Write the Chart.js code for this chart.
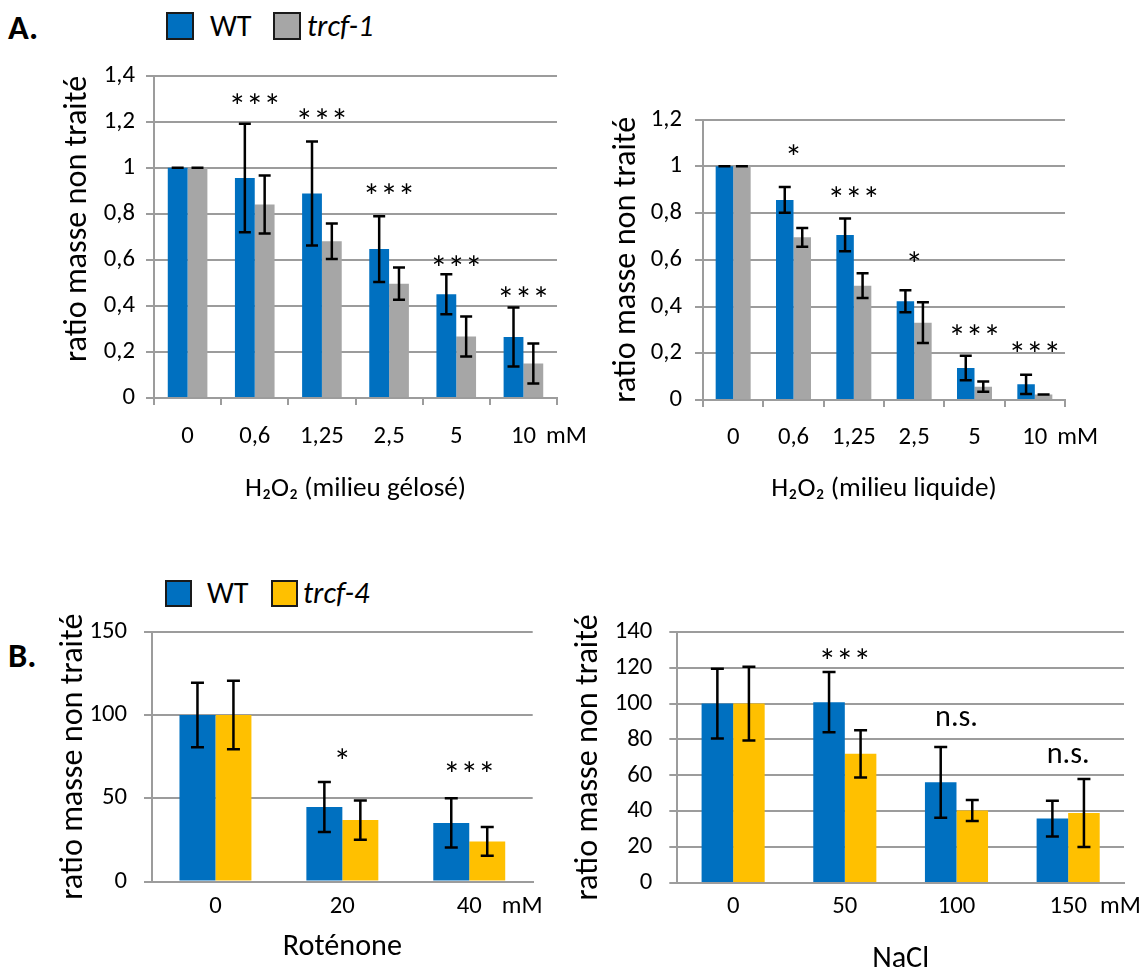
<!DOCTYPE html>
<html><head><meta charset="utf-8">
<script src="https://cdn.jsdelivr.net/npm/chart.js@4.4.1/dist/chart.umd.min.js"></script>
<style>
html,body{margin:0;padding:0;background:#fff;}
body{width:1148px;height:968px;position:relative;overflow:hidden;color:#000}
canvas{position:absolute}
.t{position:absolute;white-space:nowrap;height:40px;line-height:40px}
.box{position:absolute;box-sizing:border-box;border:2px solid #1a1a1a}
</style></head><body>
<div class="t" id="lblA" style="left:8px;top:7px;font-weight:bold">A.</div>
<div class="box" style="left:166px;top:12px;width:28px;height:28px;background:#0070C0"></div>
<div class="t leg" style="left:210px;top:6px">WT</div>
<div class="box" style="left:273px;top:12px;width:28px;height:28px;background:#A6A6A6"></div>
<div class="t leg" style="left:307px;top:6px;font-style:italic">trcf-1</div>

<div class="t" id="lblB" style="left:8px;top:635px;font-weight:bold">B.</div>
<div class="box" style="left:165px;top:580px;width:27px;height:27px;background:#0070C0"></div>
<div class="t leg" style="left:207px;top:573px">WT</div>
<div class="box" style="left:271px;top:580px;width:27px;height:27px;background:#FFC000"></div>
<div class="t leg" style="left:303px;top:573px;font-style:italic">trcf-4</div>

<canvas id="cA1" width="600" height="470" style="left:0;top:50px"></canvas>
<canvas id="cA2" width="568" height="470" style="left:580px;top:50px"></canvas>
<canvas id="cB1" width="570" height="380" style="left:0;top:600px"></canvas>
<canvas id="cB2" width="588" height="380" style="left:560px;top:600px"></canvas>
<script>
// ---------------- DATA ----------------
const yTitle = 'ratio masse non traité';
const unitLabel = 'mM';

const catA = ['0', '0,6', '1,25', '2,5', '5', '10'];
const yTicksA1 = ['0', '0,2', '0,4', '0,6', '0,8', '1', '1,2', '1,4'];
const wtA1 = [1, 0.956, 0.889, 0.647, 0.451, 0.265];
const wtA1Err = [0, 0.236, 0.226, 0.143, 0.087, 0.128];
const mutA1 = [1, 0.841, 0.681, 0.497, 0.267, 0.15];
const mutA1Err = [0, 0.126, 0.077, 0.07, 0.087, 0.087];
const sigA1 = ['', '***', '***', '***', '***', '***'];
const sigA1Level = [0, 1.30, 1.237, 0.91, 0.596, 0.462];

const yTicksA2 = ['0', '0,2', '0,4', '0,6', '0,8', '1', '1,2'];
const wtA2 = [1, 0.856, 0.706, 0.422, 0.137, 0.067];
const wtA2Err = [0, 0.055, 0.07, 0.047, 0.052, 0.041];
const mutA2 = [1, 0.696, 0.489, 0.331, 0.057, 0.023];
const mutA2Err = [0, 0.04, 0.053, 0.087, 0.022, 0];
const sigA2 = ['', '*', '***', '*', '***', '***'];
const sigA2Level = [0, 1.072, 0.891, 0.613, 0.30, 0.228];

const catB1 = ['0', '20', '40'];
const yTicksB1 = ['0', '50', '100', '150'];
const wtB1 = [100, 44.8, 35.2];
const wtB1Err = [19.4, 15, 14.8];
const mutB1 = [100, 36.9, 24.1];
const mutB1Err = [20.6, 11.8, 8.6];
const sigB1 = ['', '*', '***'];
const sigB1Level = [0, 76.7, 68.9];

const catB2 = ['0', '50', '100', '150'];
const yTicksB2 = ['0', '20', '40', '60', '80', '100', '120', '140'];
const wtB2 = [100, 100.8, 56.1, 35.9];
const wtB2Err = [19.4, 16.8, 19.7, 10];
const mutB2 = [100, 72, 40.4, 39];
const mutB2Err = [20.6, 13.2, 5.9, 18.9];
const sigB2 = ['', '***', 'n.s.', 'n.s.'];
const sigB2Level = [0, 127.9, 91.8, 71];

// ---------------- STYLE ----------------
const FONT = 'Carlito, Lato, sans-serif';
const GRID = '#9c9c9c';
const BLUE = '#0070C0', GRAY = '#A6A6A6', YELLOW = '#FFC000';

const mctx = document.createElement('canvas').getContext('2d');
mctx.font = '100px ' + FONT;
const k = 895.7 / mctx.measureText(yTitle).width;
const fs = s => Math.round(s * k * 10) / 10;

document.body.style.fontFamily = FONT;
document.querySelectorAll('.leg').forEach(e => e.style.fontSize = fs(30) + 'px');
['lblA', 'lblB'].forEach(id => document.getElementById(id).style.fontSize = fs(34) + 'px');

const errorBarPlugin = {
  id: 'errorBars',
  afterDatasetsDraw(chart, args, o) {
    const ctx = chart.ctx, y = chart.scales.y;
    ctx.save();
    ctx.strokeStyle = '#000';
    ctx.lineWidth = o.lineWidth;
    ctx.lineCap = 'butt';
    chart.data.datasets.forEach((ds, di) => {
      chart.getDatasetMeta(di).data.forEach((bar, i) => {
        const v = ds.data[i], e = ds.errors[i];
        const x = bar.x;
        const yt = y.getPixelForValue(v + e), yb = y.getPixelForValue(v - e);
        ctx.beginPath();
        ctx.moveTo(x, yt); ctx.lineTo(x, yb);
        ctx.moveTo(x - o.cap, yt); ctx.lineTo(x + o.cap, yt);
        ctx.moveTo(x - o.cap, yb); ctx.lineTo(x + o.cap, yb);
        ctx.stroke();
      });
    });
    ctx.restore();
  }
};

const sigPlugin = {
  id: 'sig',
  afterDatasetsDraw(chart, args, o) {
    const ctx = chart.ctx, x = chart.scales.x, y = chart.scales.y;
    ctx.save();
    ctx.fillStyle = '#000';
    ctx.textAlign = 'center';
    ctx.textBaseline = 'alphabetic';
    o.labels.forEach((t, i) => {
      if (!t) return;
      ctx.font = (t.indexOf('*') >= 0 ? o.starSize : o.size) + 'px ' + FONT;
      const m = ctx.measureText(t);
      const cy = y.getPixelForValue(o.levels[i]);
      ctx.fillText(t, x.getPixelForValue(i), cy + (m.actualBoundingBoxAscent - m.actualBoundingBoxDescent) / 2);
    });
    ctx.restore();
  }
};

const unitPlugin = {
  id: 'unit',
  afterDraw(chart, args, o) {
    const ctx = chart.ctx, x = chart.scales.x;
    const labels = chart.data.labels, n = labels.length;
    ctx.save();
    ctx.font = o.size + 'px ' + FONT;
    const w = ctx.measureText(labels[n - 1]).width;
    ctx.fillStyle = '#000';
    ctx.textAlign = 'left';
    ctx.textBaseline = 'middle';
    ctx.fillText(o.text, x.getPixelForValue(n - 1) + w / 2 + o.gap, x.top + o.offset);
    ctx.restore();
  }
};

function buildChart(id, d, L) {
  const tickSize = fs(24.5), yTitleSize = fs(32), xTitleSize = fs(L.xTitleCal);
  const tl = L.xTickMarks ? 7 : 0;
  return new Chart(document.getElementById(id), {
    type: 'bar',
    data: {
      labels: d.labels,
      datasets: d.series.map(s => ({
        label: s.name, data: s.values, errors: s.errors, backgroundColor: s.color,
        borderWidth: 0, categoryPercentage: L.catPct, barPercentage: 1
      }))
    },
    options: {
      responsive: false, animation: false,
      layout: { padding: { top: L.padTop, right: L.padRight, left: 0, bottom: 0 } },
      plugins: {
        legend: { display: false }, tooltip: { enabled: false },
        errorBars: { lineWidth: 2.5, cap: L.cap },
        sig: { labels: d.sig, levels: d.sigLevels, size: fs(30), starSize: fs(35) },
        unit: { text: unitLabel, gap: L.unitGap, size: tickSize, offset: L.xTickOffset }
      },
      scales: {
        x: {
          z: 1,
          grid: { display: L.xTickMarks, drawOnChartArea: false, drawTicks: L.xTickMarks, tickLength: 7, color: GRID, lineWidth: 2 },
          border: { display: true, color: GRID, width: 2 },
          ticks: { font: { family: FONT, size: tickSize }, color: '#000', padding: L.xTickOffset - tl - 0.6 * tickSize, maxRotation: 0, autoSkip: false },
          title: { display: true, text: d.xTitle, font: { family: FONT, size: xTitleSize }, color: '#000', padding: { top: 0, bottom: L.xTitleBottom - 0.6 * xTitleSize } },
          afterFit: s => { s.height = L.xHeight; }
        },
        y: {
          min: d.yMin, max: d.yMax,
          ticks: { stepSize: d.yStep, autoSkip: false, callback: (v, i) => d.yTickLabels[i], font: { family: FONT, size: tickSize }, color: '#000', padding: L.yLabelGap - 8 },
          grid: { color: GRID, lineWidth: 2, tickLength: 8, drawTicks: true },
          border: { display: true, color: GRID, width: 2 },
          title: { display: true, text: yTitle, align: L.yTitleAlign || 'center', font: { family: FONT, size: yTitleSize }, color: '#000', padding: { top: L.yTitleX - 0.6 * yTitleSize, bottom: 0 } },
          afterFit: s => { s.width = L.yWidth; }
        }
      }
    },
    plugins: [errorBarPlugin, sigPlugin, unitPlugin]
  });
}

buildChart('cA1', {
  labels: catA, yMin: 0, yMax: 1.4, yStep: 0.2, yTickLabels: yTicksA1,
  xTitle: 'H₂O₂ (milieu gélosé)', sig: sigA1, sigLevels: sigA1Level,
  series: [{ name: 'WT', values: wtA1, errors: wtA1Err, color: BLUE }, { name: 'trcf-1', values: mutA1, errors: mutA1Err, color: GRAY }]
}, { yWidth: 154, padTop: 24, padRight: 43, xHeight: 122, yTitleX: 78, yTitleAlign: 'end', xTickOffset: 39, xTitleBottom: 31, xTitleCal: 27, yLabelGap: 19, unitGap: 10, catPct: 0.59, xTickMarks: true, cap: 6 });

buildChart('cA2', {
  labels: catA, yMin: 0, yMax: 1.2, yStep: 0.2, yTickLabels: yTicksA2,
  xTitle: 'H₂O₂ (milieu liquide)', sig: sigA2, sigLevels: sigA2Level,
  series: [{ name: 'WT', values: wtA2, errors: wtA2Err, color: BLUE }, { name: 'trcf-1', values: mutA2, errors: mutA2Err, color: GRAY }]
}, { yWidth: 123, padTop: 69.5, padRight: 83, xHeight: 120, yTitleX: 47, xTickOffset: 38, xTitleBottom: 31, xTitleCal: 27, yLabelGap: 21, unitGap: 10, catPct: 0.58, xTickMarks: true, cap: 6 });

buildChart('cB1', {
  labels: catB1, yMin: 0, yMax: 150, yStep: 50, yTickLabels: yTicksB1,
  xTitle: 'Roténone', sig: sigB1, sigLevels: sigB1Level,
  series: [{ name: 'WT', values: wtB1, errors: wtB1Err, color: BLUE }, { name: 'trcf-4', values: mutB1, errors: mutB1Err, color: YELLOW }]
}, { yWidth: 152, padTop: 27.7, padRight: 37.3, xHeight: 98.5, yTitleX: 74, xTickOffset: 25, xTitleBottom: 33, xTitleCal: 30, yLabelGap: 25, unitGap: 20, catPct: 0.567, xTickMarks: false, cap: 6.5 });

buildChart('cB2', {
  labels: catB2, yMin: 0, yMax: 140, yStep: 20, yTickLabels: yTicksB2,
  xTitle: 'NaCl', sig: sigB2, sigLevels: sigB2Level,
  series: [{ name: 'WT', values: wtB2, errors: wtB2Err, color: BLUE }, { name: 'trcf-4', values: mutB2, errors: mutB2Err, color: YELLOW }]
}, { yWidth: 117.3, padTop: 24.3, padRight: 24, xHeight: 97, yTitleX: 29, xTickOffset: 24, xTitleBottom: 21, xTitleCal: 30, yLabelGap: 25, unitGap: 13, catPct: 0.565, xTickMarks: false, cap: 6.5 });
</script>
</body></html>
